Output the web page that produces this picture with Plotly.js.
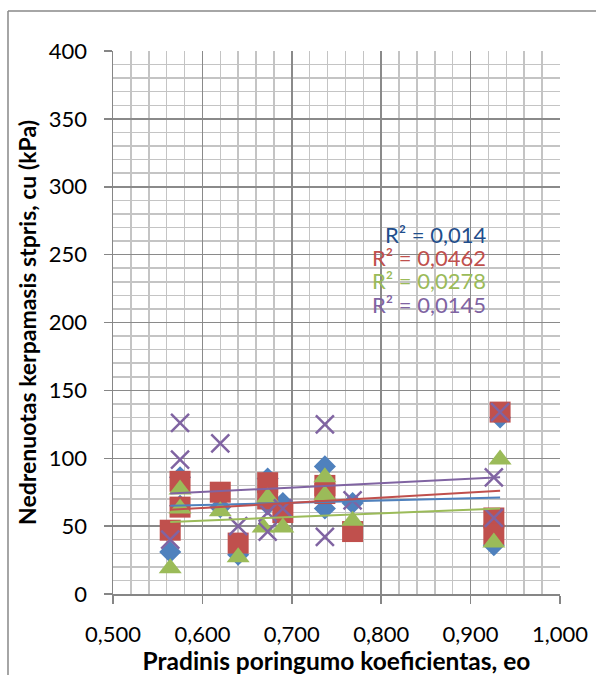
<!DOCTYPE html>
<html>
<head>
<meta charset="utf-8">
<script src="https://cdn.plot.ly/plotly-3.0.1.min.js"></script>
<style>html,body{margin:0;padding:0;background:#fff;}#chart{width:596px;height:675px;}</style>
</head>
<body>
<div id="chart"></div>
<script>
// Series 1 (blue diamonds)
const blueX = [0.564, 0.575, 0.575, 0.620, 0.640, 0.673, 0.673, 0.690, 0.737, 0.737, 0.768, 0.926, 0.933];
const blueY = [31, 86, 65, 64, 29, 85, 66, 67, 94, 63, 67, 36, 130];
// Series 2 (red squares)
const redX = [0.564, 0.575, 0.575, 0.620, 0.640, 0.673, 0.673, 0.690, 0.737, 0.737, 0.768, 0.926, 0.926, 0.933];
const redY = [47, 83, 64, 75, 37.5, 82, 70, 60, 80, 74, 46, 56, 44, 134];
// Series 3 (green triangles)
const greenX = [0.564, 0.575, 0.575, 0.620, 0.640, 0.673, 0.668, 0.690, 0.737, 0.737, 0.768, 0.926, 0.933];
const greenY = [19, 77, 63, 61, 27, 71, 49, 49, 86, 73, 54, 38, 99];
// Series 4 (purple crosses)
const purpleX = [0.564, 0.575, 0.575, 0.620, 0.640, 0.673, 0.673, 0.690, 0.737, 0.737, 0.768, 0.926, 0.926, 0.933];
const purpleY = [40, 126, 99, 111, 50, 60, 46, 63, 125, 42, 69, 86, 56, 134];

// Linear trendlines (end points)
const trendX = [0.564, 0.933];
const blueTrend = [65, 71];
const redTrend = [62, 76];
const greenTrend = [53, 63];
const purpleTrend = [74, 86];

// R² labels
const r2Labels = ["R² = 0,014", "R² = 0,0462", "R² = 0,0278", "R² = 0,0145"];
const r2LabelY = [264.5, 248, 231, 213];

const xTickVals = [0.5, 0.6, 0.7, 0.8, 0.9, 1.0];
const yTickVals = [0, 50, 100, 150, 200, 250, 300, 350, 400];

const C = {blue:'#4F81BD', red:'#C0504D', green:'#9BBB59', purple:'#8064A2', blueText:'#1F4E8C'};
const FONT = 'Lato, "Open Sans", sans-serif';

const traces = [
  {x: blueX, y: blueY, type:'scatter', mode:'markers', marker:{symbol:'diamond', size:17, color:C.blue}},
  {x: redX, y: redY, type:'scatter', mode:'markers', marker:{symbol:'square', size:21, color:C.red}},
  {x: greenX, y: greenY, type:'scatter', mode:'markers', marker:{symbol:'triangle-up', size:20, color:C.green}},
  {x: purpleX, y: purpleY, type:'scatter', mode:'markers', marker:{symbol:'x-thin', size:18, color:C.purple, line:{color:C.purple, width:2.5}}},
  {x: trendX, y: blueTrend, type:'scatter', mode:'lines', line:{color:C.blue, width:2}},
  {x: trendX, y: redTrend, type:'scatter', mode:'lines', line:{color:C.red, width:2}},
  {x: trendX, y: greenTrend, type:'scatter', mode:'lines', line:{color:C.green, width:2}},
  {x: trendX, y: purpleTrend, type:'scatter', mode:'lines', line:{color:C.purple, width:2}}
];

const labelColors = [C.blueText, C.red, C.green, C.purple];
const annotations = r2Labels.map((t, i) => ({
  x: 0.918, y: r2LabelY[i], xref:'x', yref:'y', text: t, showarrow:false,
  xanchor:'right', yanchor:'middle', borderpad:0, font:{family:FONT, size:22, color:labelColors[i]}
}));

const layout = {
  width:596, height:675,
  margin:{l:113, r:36, t:51, b:81},
  paper_bgcolor:'#fff', plot_bgcolor:'#fff',
  showlegend:false,
  separators:',.',
  font:{family:FONT, size:22, color:'#000'},
  xaxis:{
    range:[0.5, 1.0], tickvals:xTickVals, tickformat:'.3f',
    showgrid:true, gridcolor:'#8a8a8a', gridwidth:1.5,
    minor:{dtick:0.02, tick0:0.5, showgrid:true, gridcolor:'#c4c4c4', gridwidth:1.5},
    zeroline:false, showline:true, linecolor:'#868686', linewidth:1.5,
    ticks:'outside', ticklen:8, tickcolor:'#868686', tickwidth:1.5,
    ticklabelstandoff:12,
    tickfont:{family:FONT, size:22, color:'#000'},
    title:{text:'<b>Pradinis poringumo koeficientas, eo</b>', font:{family:FONT, size:24.5, color:'#000'}, standoff:1}
  },
  yaxis:{
    range:[0, 400], tickvals:yTickVals,
    showgrid:true, gridcolor:'#8a8a8a', gridwidth:1.5,
    minor:{dtick:10, tick0:0, showgrid:true, gridcolor:'#c4c4c4', gridwidth:1.5},
    zeroline:false, showline:true, linecolor:'#868686', linewidth:1.5,
    ticks:'outside', ticklen:8, tickcolor:'#868686', tickwidth:1.5,
    ticklabelstandoff:12,
    tickfont:{family:FONT, size:22, color:'#000'},
    title:{text:'<b>Nedrenuotas kerpamasis stpris, cu (kPa)</b>', font:{family:FONT, size:23, color:'#000'}, standoff:6}
  },
  annotations: annotations,
  shapes:[
    {type:'line', xref:'paper', yref:'paper', x0:-0.2349, x1:-0.2349, y0:1.0737, y1:-0.2, line:{color:'#888', width:1.5}},
    {type:'line', xref:'paper', yref:'paper', x0:-0.2349, x1:1.1, y0:1.0737, y1:1.0737, line:{color:'#888', width:1.5}}
  ]
};

Plotly.newPlot('chart', traces, layout, {staticPlot:true, displayModeBar:false});
</script>
</body>
</html>
